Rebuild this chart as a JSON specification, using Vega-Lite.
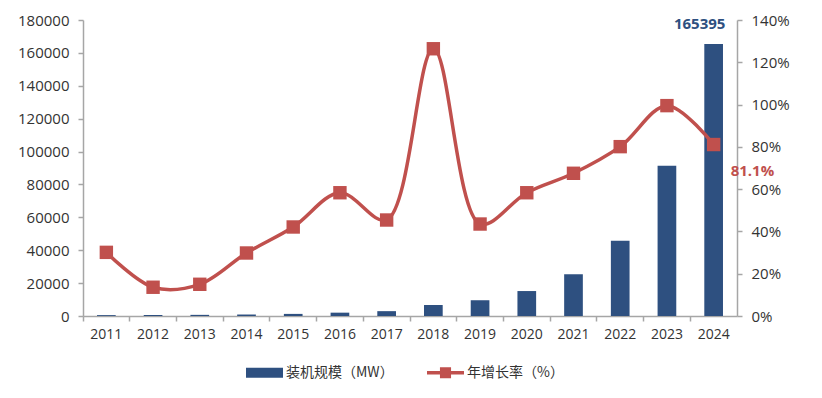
{
  "$schema": "https://vega.github.io/schema/vega-lite/v6.json",
  "width": 654,
  "height": 296,
  "autosize": {"type": "none"},
  "padding": {"left": 83, "top": 20, "right": 85, "bottom": 82},
  "background": "white",
  "config": {
    "view": {"stroke": null},
    "axis": {
      "grid": false,
      "title": null,
      "labelFont": "Open Sans",
      "labelFontSize": 15,
      "labelColor": "#333333",
      "labelOverlap": false,
      "domainColor": "#A6A6A6",
      "tickColor": "#A6A6A6",
      "domainWidth": 1.5,
      "tickWidth": 1.5,
      "tickSize": 5
    }
  },
  "data": {
    "values": [
      {"year": 2011, "capacity": 531, "growth": 0.301},
      {"year": 2012, "capacity": 603, "growth": 0.136},
      {"year": 2013, "capacity": 694, "growth": 0.150},
      {"year": 2014, "capacity": 900, "growth": 0.298},
      {"year": 2015, "capacity": 1280, "growth": 0.421},
      {"year": 2016, "capacity": 2030, "growth": 0.583},
      {"year": 2017, "capacity": 2950, "growth": 0.454},
      {"year": 2018, "capacity": 6680, "growth": 1.264},
      {"year": 2019, "capacity": 9586, "growth": 0.435},
      {"year": 2020, "capacity": 15175, "growth": 0.583},
      {"year": 2021, "capacity": 25418, "growth": 0.675},
      {"year": 2022, "capacity": 45778, "growth": 0.801},
      {"year": 2023, "capacity": 91328, "growth": 0.995},
      {"year": 2024, "capacity": 165395, "growth": 0.811}
    ]
  },
  "encoding": {
    "x": {
      "field": "year",
      "type": "ordinal",
      "scale": {"paddingInner": 0, "paddingOuter": 0},
      "axis": {"labelAngle": 0, "bandPosition": 0, "labelPadding": 6, "labelFontSize": 14, "labelFont": "Open Sans"}
    }
  },
  "layer": [
    {
      "encoding": {
        "y": {
          "field": "capacity",
          "type": "quantitative",
          "scale": {"domain": [0, 180000], "nice": false},
          "axis": {"orient": "left", "values": [0, 20000, 40000, 60000, 80000, 100000, 120000, 140000, 160000, 180000], "format": "d", "labelPadding": 9, "labelOverlap": false}
        }
      },
      "layer": [
        {
          "mark": {"type": "bar", "width": {"band": 0.4}},
          "encoding": {
            "color": {
              "datum": "装机规模（MW）",
              "type": "nominal",
              "scale": {"domain": ["装机规模（MW）", "年增长率（%）"], "range": ["#2E5080", "#C0504D"]},
              "legend": {
                "orient": "none",
                "legendX": 163,
                "legendY": 334,
                "direction": "horizontal",
                "title": null,
                "padding": 0,
                "symbolType": {"expr": "datum.value === '装机规模（MW）' ? 'M-1,-0.27H1V0.27H-1Z' : 'M-1,-0.095H1V0.095H-1Z M-0.3,-0.3H0.3V0.3H-0.3Z'"},
                "symbolSize": 1369,
                "symbolStrokeWidth": 0,
                "labelFont": "Noto Sans CJK SC",
                "labelFontSize": 14,
                "labelColor": "#333333",
                "labelOffset": 3,
                "columnPadding": 33
              }
            }
          }
        },
        {
          "transform": [{"filter": "datum.year == 2024"}],
          "mark": {"type": "text", "baseline": "alphabetic", "dx": -14, "dy": -15, "fontWeight": "bold", "color": "#2E5080", "fontSize": 15, "font": "Open Sans"},
          "encoding": {
            "text": {"field": "capacity", "type": "quantitative", "format": "d"}
          }
        }
      ]
    },
    {
      "encoding": {
        "y": {
          "field": "growth",
          "type": "quantitative",
          "scale": {"domain": [0, 1.4], "nice": false},
          "axis": {"orient": "right", "values": [0, 0.2, 0.4, 0.6, 0.8, 1.0, 1.2, 1.4], "format": ".0%", "labelPadding": 9, "labelOverlap": false}
        }
      },
      "layer": [
        {
          "mark": {"type": "line", "interpolate": "catmull-rom", "strokeWidth": 3.5},
          "encoding": {
            "color": {"datum": "年增长率（%）", "type": "nominal"}
          }
        },
        {
          "mark": {"type": "point", "shape": "square", "filled": true, "size": 180, "opacity": 1, "color": "#C0504D"}
        },
        {
          "transform": [{"filter": "datum.year == 2024"}],
          "mark": {"type": "text", "align": "left", "baseline": "middle", "dx": 17, "dy": 26, "fontWeight": "bold", "color": "#C0504D", "fontSize": 15, "font": "Open Sans"},
          "encoding": {
            "text": {"field": "growth", "type": "quantitative", "format": ".1%"}
          }
        }
      ]
    }
  ],
  "resolve": {"scale": {"y": "independent"}}
}
